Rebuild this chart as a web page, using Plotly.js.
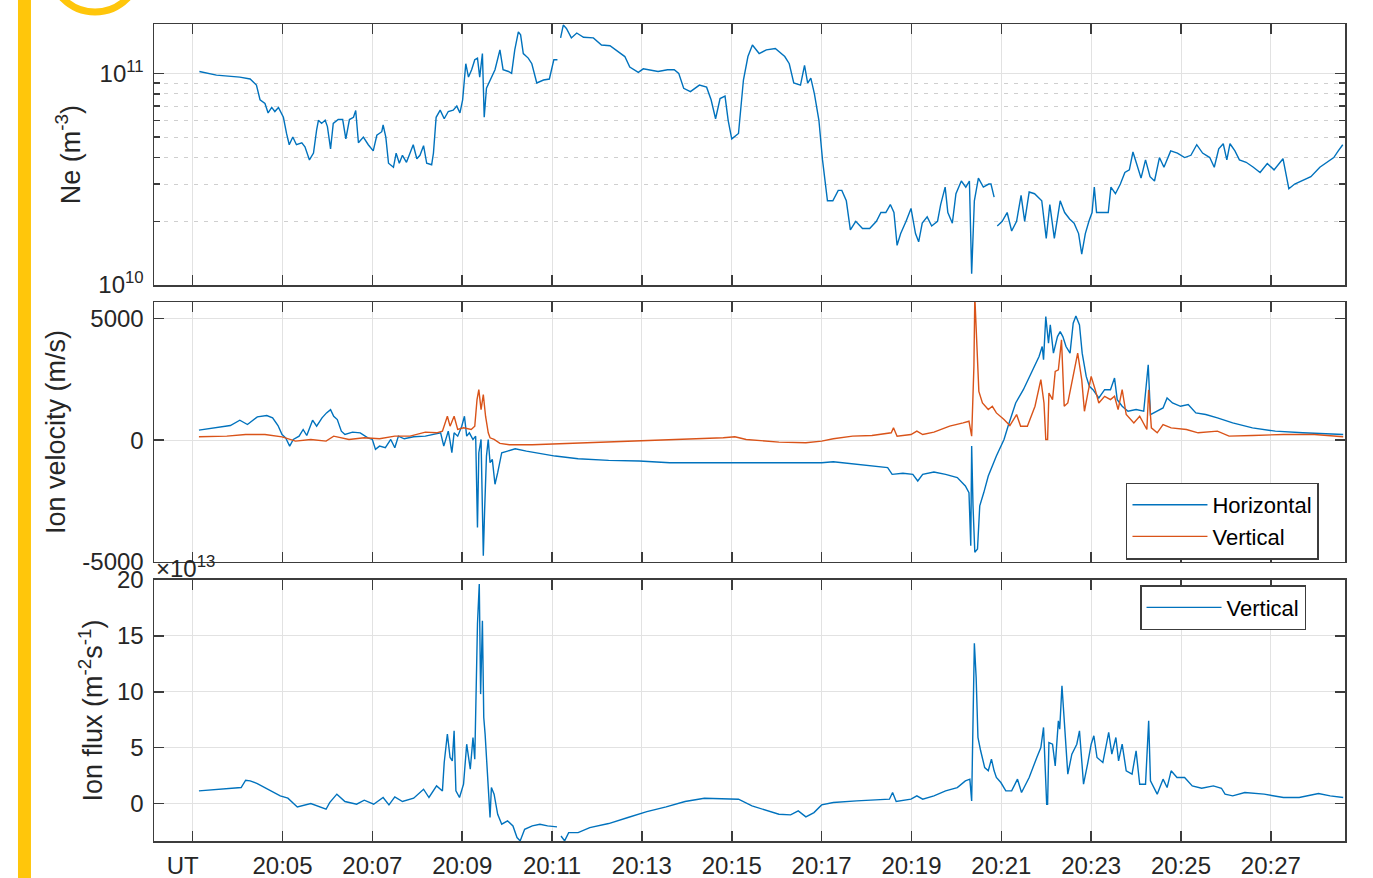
<!DOCTYPE html>
<html>
<head>
<meta charset="utf-8">
<script src="https://cdn.plot.ly/plotly-3.0.1.min.js"></script>
<style>html,body{margin:0;padding:0;background:#fff;}#chart{width:1373px;height:878px;}</style>
</head>
<body>
<div id="chart"></div>
<script>
// time in minutes after 20:00 UT
const tickMinutes = [3,5,7,9,11,13,15,17,19,21,23,25,27];
const tickLabels = ["UT\u00a0\u00a0\u00a0","20:05","20:07","20:09","20:11","20:13","20:15","20:17","20:19","20:21","20:23","20:25","20:27"];
const velTicks = [-5000,0,5000];
const velTickLabels = ["-5000","0","5000"];
const fluxTicks = [0,5,10,15,20];

// Ne in units of 1e10 m^-3  [minute, value]
const neData = [[3.15,10.2],[3.53,9.8],[4.05,9.6],[4.28,9.4],[4.42,8.8],[4.50,7.5],[4.61,7.2],[4.68,6.5],[4.76,6.9],[4.83,6.6],[4.91,6.9],[5.02,6.2],[5.09,5.2],[5.15,4.6],[5.23,5.0],[5.31,4.6],[5.43,4.7],[5.50,4.5],[5.60,3.9],[5.69,4.2],[5.76,5.4],[5.80,6.0],[5.87,5.8],[5.95,6.0],[6.00,5.6],[6.07,4.4],[6.13,5.8],[6.24,6.05],[6.34,6.05],[6.41,4.9],[6.49,6.05],[6.58,6.2],[6.63,6.67],[6.69,4.7],[6.80,5.0],[6.91,4.6],[7.02,4.3],[7.10,5.1],[7.21,5.3],[7.24,5.7],[7.30,5.0],[7.36,3.76],[7.47,3.6],[7.53,4.2],[7.60,3.76],[7.67,4.1],[7.76,3.8],[7.84,4.2],[7.91,4.6],[7.99,3.95],[8.06,4.1],[8.14,4.55],[8.21,3.76],[8.32,3.7],[8.36,4.2],[8.42,6.2],[8.51,6.7],[8.60,6.1],[8.69,6.6],[8.80,6.7],[8.88,7.0],[8.95,6.5],[9.01,7.5],[9.08,11.1],[9.14,9.6],[9.21,10.4],[9.28,11.6],[9.34,11.8],[9.39,9.6],[9.45,12.4],[9.49,6.2],[9.54,8.5],[9.62,9.3],[9.73,10.4],[9.84,12.9],[9.91,10.4],[10.03,10.2],[10.10,10.0],[10.17,12.9],[10.25,15.7],[10.30,15.2],[10.36,12.4],[10.47,11.8],[10.55,11.1],[10.66,9.0],[10.81,9.3],[10.94,9.4],[11.04,11.6],[11.12,11.6],[11.15,null],[11.19,14.7],[11.25,16.9],[11.32,16.3],[11.43,14.7],[11.55,15.5],[11.70,14.8],[11.92,14.7],[12.10,13.6],[12.29,13.5],[12.47,12.6],[12.62,12.0],[12.73,10.7],[12.92,10.1],[13.03,10.5],[13.18,10.4],[13.36,10.2],[13.57,10.4],[13.72,10.4],[13.82,10.0],[13.93,8.5],[14.08,8.2],[14.28,8.8],[14.44,8.6],[14.54,7.5],[14.64,6.1],[14.74,7.6],[14.85,7.8],[14.92,6.0],[15.00,4.9],[15.15,5.2],[15.26,9.3],[15.36,12.0],[15.46,13.6],[15.61,12.4],[15.77,12.9],[15.97,13.1],[16.18,12.0],[16.28,11.1],[16.38,9.0],[16.53,8.8],[16.62,10.9],[16.69,9.0],[16.76,9.5],[16.84,8.0],[16.94,6.0],[17.02,3.9],[17.13,2.5],[17.25,2.5],[17.37,2.8],[17.45,2.8],[17.55,2.5],[17.64,1.82],[17.76,2.0],[17.91,1.85],[18.07,1.85],[18.22,2.0],[18.32,2.2],[18.43,2.2],[18.53,2.4],[18.61,2.2],[18.68,1.54],[18.76,1.75],[18.88,2.0],[18.99,2.3],[19.09,1.75],[19.16,1.6],[19.24,1.96],[19.35,2.1],[19.45,1.9],[19.58,2.0],[19.65,2.4],[19.75,2.9],[19.81,2.2],[19.91,1.96],[19.99,2.7],[20.11,3.1],[20.21,2.9],[20.29,3.1],[20.34,1.13],[20.40,2.5],[20.49,3.2],[20.60,2.9],[20.72,3.0],[20.77,3.0],[20.84,2.6],[20.87,null],[20.91,1.9],[21.02,2.0],[21.13,2.2],[21.23,1.8],[21.34,2.0],[21.44,2.65],[21.52,2.0],[21.62,2.75],[21.74,2.7],[21.90,2.5],[22.00,1.66],[22.08,2.4],[22.18,1.66],[22.31,2.5],[22.41,2.2],[22.52,2.05],[22.62,1.96],[22.72,1.75],[22.79,1.4],[22.87,1.75],[22.95,2.0],[23.02,2.2],[23.07,2.9],[23.12,2.2],[23.23,2.2],[23.38,2.2],[23.44,2.9],[23.54,2.7],[23.65,3.0],[23.75,3.4],[23.85,3.5],[23.93,4.25],[24.01,3.75],[24.11,3.2],[24.21,3.9],[24.31,3.25],[24.41,3.1],[24.52,4.0],[24.62,3.6],[24.77,4.3],[24.92,4.2],[25.08,4.0],[25.22,4.1],[25.35,4.6],[25.48,4.2],[25.64,4.0],[25.74,3.6],[25.84,4.4],[25.94,4.65],[26.02,3.9],[26.09,4.65],[26.20,4.3],[26.30,3.9],[26.45,3.8],[26.61,3.6],[26.76,3.4],[26.92,3.75],[27.07,3.5],[27.27,3.95],[27.40,2.85],[27.53,3.0],[27.68,3.1],[27.89,3.25],[28.09,3.6],[28.25,3.8],[28.40,4.0],[28.50,4.3],[28.60,4.6]];

// Ion velocity, horizontal (m/s)
const velHorizontal = [[3.14,409],[3.50,504],[3.84,600],[4.05,817],[4.22,640],[4.44,953],[4.65,1008],[4.78,912],[4.90,600],[4.99,231],[5.07,95],[5.16,-245],[5.24,27],[5.37,163],[5.46,436],[5.54,190],[5.67,817],[5.76,572],[5.88,912],[5.98,1117],[6.07,1253],[6.14,980],[6.22,844],[6.31,368],[6.39,231],[6.56,327],[6.73,300],[6.90,95],[7.00,27],[7.07,-381],[7.16,-245],[7.29,-313],[7.41,27],[7.50,-313],[7.58,163],[7.71,54],[7.92,136],[8.18,163],[8.35,231],[8.52,300],[8.59,-245],[8.65,163],[8.69,368],[8.73,-40],[8.77,-517],[8.82,300],[8.90,163],[8.99,572],[9.05,980],[9.10,163],[9.16,300],[9.24,27],[9.30,163],[9.34,-3582],[9.37,-517],[9.42,27],[9.47,-4740],[9.50,-2833],[9.54,-654],[9.58,27],[9.62,-926],[9.67,-790],[9.73,-1811],[9.79,-1335],[9.88,-517],[10.01,-449],[10.18,-354],[10.43,-449],[10.73,-545],[11.07,-654],[11.58,-763],[12.26,-831],[12.94,-858],[13.62,-926],[14.39,-926],[15.19,-926],[16.05,-926],[17.00,-926],[17.26,-885],[17.78,-994],[18.21,-1062],[18.47,-1130],[18.57,-1403],[18.81,-1362],[19.03,-1403],[19.14,-1675],[19.25,-1403],[19.50,-1307],[19.76,-1403],[20.02,-1539],[20.20,-1880],[20.28,-2152],[20.32,-4331],[20.34,-245],[20.37,-2697],[20.41,-4604],[20.47,-4468],[20.52,-2697],[20.61,-2152],[20.71,-1471],[20.89,-654],[21.06,27],[21.15,572],[21.32,1525],[21.49,2070],[21.71,2887],[21.84,3432],[21.91,3841],[21.94,3296],[21.99,5066],[22.05,3977],[22.09,4726],[22.16,3568],[22.25,4249],[22.31,4454],[22.37,4249],[22.44,3841],[22.53,3568],[22.60,4794],[22.66,5094],[22.74,4726],[22.80,3568],[22.89,2615],[22.96,2206],[23.04,2070],[23.17,1730],[23.30,2070],[23.43,2070],[23.52,2547],[23.58,1662],[23.69,1389],[23.82,1185],[24.00,1253],[24.17,1185],[24.27,3092],[24.32,1049],[24.47,1185],[24.60,1321],[24.69,1730],[24.81,1525],[24.99,1389],[25.16,1457],[25.33,1117],[25.55,1049],[25.81,912],[26.15,708],[26.59,504],[27.10,368],[27.71,300],[28.61,231]];

// Ion velocity, vertical (m/s)
const velVertical = [[3.14,136],[3.76,163],[4.18,231],[4.61,231],[4.99,136],[5.29,-40],[5.63,27],[5.97,-40],[6.14,163],[6.48,27],[6.82,95],[7.16,54],[7.50,163],[7.84,163],[8.18,327],[8.43,300],[8.56,368],[8.67,980],[8.73,572],[8.82,980],[8.90,436],[9.03,504],[9.20,436],[9.28,572],[9.33,1662],[9.37,2070],[9.42,1253],[9.47,1866],[9.52,980],[9.58,300],[9.62,95],[9.71,27],[9.84,-136],[10.05,-191],[10.56,-191],[11.41,-136],[12.26,-82],[13.11,-27],[13.96,27],[14.81,95],[15.07,136],[15.32,27],[16.05,-82],[16.65,-109],[17.00,-40],[17.26,54],[17.69,163],[18.12,191],[18.55,300],[18.60,504],[18.68,163],[18.99,231],[19.12,368],[19.25,231],[19.50,327],[19.85,572],[20.15,708],[20.28,776],[20.34,163],[20.39,3023],[20.41,5900],[20.45,4386],[20.50,2002],[20.58,1525],[20.71,1253],[20.80,1389],[20.89,1117],[21.06,844],[21.19,600],[21.34,1049],[21.43,572],[21.58,572],[21.75,1389],[21.88,2479],[21.95,1525],[21.99,27],[22.03,27],[22.06,1934],[22.14,1662],[22.20,2819],[22.27,2887],[22.34,4113],[22.40,1389],[22.48,1525],[22.57,2343],[22.70,3568],[22.79,2479],[22.85,1185],[22.92,1866],[23.00,2615],[23.09,2070],[23.17,1525],[23.30,1798],[23.43,1662],[23.52,1798],[23.60,1253],[23.69,2070],[23.78,1049],[23.95,708],[24.08,980],[24.24,436],[24.28,2070],[24.34,504],[24.47,300],[24.60,640],[24.78,504],[25.12,436],[25.38,300],[25.81,368],[26.07,163],[26.59,191],[27.28,231],[27.97,231],[28.61,136]];

// Ion flux, vertical, in units of 1e13 m^-2 s^-1
const fluxVertical = [[3.14,1.13],[3.54,1.28],[4.08,1.43],[4.18,2.09],[4.28,2.03],[4.44,1.79],[4.61,1.43],[4.73,1.19],[4.95,0.69],[5.12,0.48],[5.33,-0.30],[5.63,0],[5.84,-0.30],[5.97,-0.51],[6.05,0.09],[6.21,0.84],[6.39,0.18],[6.65,-0.06],[6.82,0.30],[7.03,-0.06],[7.24,0.54],[7.37,-0.12],[7.50,0.60],[7.67,0.18],[7.92,0.48],[8.14,1.28],[8.26,0.54],[8.43,1.58],[8.56,1.13],[8.60,3.67],[8.67,6.21],[8.73,4.12],[8.78,3.82],[8.82,6.51],[8.86,1.13],[8.94,0.54],[9.03,1.73],[9.10,5.31],[9.18,3.07],[9.24,5.91],[9.28,3.97],[9.34,16.06],[9.38,19.64],[9.41,9.79],[9.45,16.36],[9.48,7.70],[9.51,6.21],[9.56,2.93],[9.59,0.54],[9.62,-1.25],[9.65,1.43],[9.71,0.84],[9.79,-0.96],[9.88,-1.85],[10.01,-1.55],[10.13,-2.00],[10.22,-3.04],[10.29,-3.34],[10.39,-2.30],[10.56,-2.00],[10.73,-1.85],[10.90,-2.00],[11.11,-2.09],[11.15,null],[11.20,-2.90],[11.28,-3.34],[11.37,-2.60],[11.58,-2.60],[11.84,-2.15],[12.26,-1.79],[12.69,-1.25],[13.11,-0.72],[13.54,-0.30],[13.96,0.18],[14.39,0.48],[14.81,0.45],[15.15,0.39],[15.45,-0.21],[15.79,-0.66],[16.05,-0.96],[16.31,-1.01],[16.48,-0.66],[16.65,-1.19],[16.83,-0.81],[17.00,-0.12],[17.26,0.09],[17.78,0.24],[18.21,0.30],[18.51,0.39],[18.58,0.99],[18.66,0.18],[18.99,0.39],[19.12,0.69],[19.25,0.39],[19.50,0.69],[19.76,1.13],[20.02,1.43],[20.20,2.03],[20.30,2.18],[20.34,0.24],[20.37,8.30],[20.40,14.33],[20.44,11.28],[20.48,5.91],[20.54,4.72],[20.63,3.22],[20.71,2.93],[20.78,3.97],[20.84,2.93],[20.89,2.33],[20.99,1.88],[21.10,1.13],[21.23,1.13],[21.36,2.18],[21.45,0.99],[21.62,2.33],[21.79,4.12],[21.88,5.01],[21.94,6.81],[21.98,2.63],[22.01,-0.06],[22.03,-0.06],[22.06,5.46],[22.14,5.31],[22.20,3.37],[22.27,7.40],[22.30,6.66],[22.35,10.54],[22.42,5.91],[22.48,2.63],[22.57,4.42],[22.68,5.31],[22.74,6.51],[22.83,1.73],[22.92,3.52],[23.00,5.31],[23.06,6.06],[23.13,4.12],[23.26,3.67],[23.39,6.36],[23.46,4.42],[23.55,5.91],[23.61,3.82],[23.69,5.31],[23.78,2.93],[23.91,2.63],[24.00,4.72],[24.08,1.73],[24.21,1.73],[24.28,7.40],[24.32,2.03],[24.47,0.84],[24.60,2.18],[24.69,1.43],[24.78,2.93],[24.91,2.33],[25.08,2.33],[25.25,1.58],[25.46,1.37],[25.72,1.58],[25.90,1.37],[25.98,0.84],[26.15,0.69],[26.42,0.99],[26.85,0.84],[27.28,0.54],[27.63,0.54],[28.06,0.90],[28.32,0.69],[28.61,0.54]];

const neMinorTicks = [2,3,4,5,6,7,8,9];

const BLUE = '#0072BD', ORANGE = '#D95319';
const FONT = 'Liberation Sans, Arial, Helvetica, sans-serif';
const AX = '#3c3c3c', GRID = '#e2e2e2', TXT = '#262626';
const TICK = 24, TITLE = 27, LW = 1.4;

const xs = d => d.map(p => p[0]);
const ys = (d, k) => d.map(p => p[1] === null ? null : p[1] * k);

const traces = [
  {x: xs(neData), y: ys(neData, 1e10), xaxis:'x', yaxis:'y', mode:'lines', line:{color:BLUE, width:LW}, showlegend:false, connectgaps:false, name:'Ne'},
  {x: xs(velHorizontal), y: ys(velHorizontal, 1), xaxis:'x2', yaxis:'y2', mode:'lines', line:{color:BLUE, width:LW}, name:'Horizontal', legend:'legend'},
  {x: xs(velVertical), y: ys(velVertical, 1), xaxis:'x2', yaxis:'y2', mode:'lines', line:{color:ORANGE, width:LW}, name:'Vertical', legend:'legend'},
  {x: xs(fluxVertical), y: ys(fluxVertical, 1), xaxis:'x3', yaxis:'y3', mode:'lines', line:{color:BLUE, width:LW}, name:'Vertical', legend:'legend2', connectgaps:false}
];

const xCommon = {
  range:[2.14, 28.65], tickmode:'array', tickvals:tickMinutes, ticktext:tickLabels,
  ticks:'inside', ticklen:10, tickwidth:1.5, tickcolor:AX,
  showline:true, linecolor:AX, linewidth:1.5, mirror:'ticks',
  showgrid:true, gridcolor:GRID, gridwidth:1, zeroline:false,
  tickfont:{size:TICK, color:TXT, family:FONT}
};
const yCommon = {
  ticks:'inside', ticklen:10, tickwidth:1.5, tickcolor:AX,
  showline:true, linecolor:AX, linewidth:1.5, mirror:'ticks',
  showgrid:true, gridcolor:GRID, gridwidth:1, zeroline:false,
  tickfont:{size:TICK, color:TXT, family:FONT}, ticklabelstandoff:4
};

const layout = {
  width:1373, height:878,
  margin:{l:154, r:28, t:24, b:37},
  paper_bgcolor:'#ffffff', plot_bgcolor:'#ffffff',
  font:{family:FONT, size:TICK, color:TXT},
  showlegend:true,
  xaxis: Object.assign({}, xCommon, {domain:[0,1], anchor:'y', showticklabels:false}),
  xaxis2: Object.assign({}, xCommon, {domain:[0,1], anchor:'y2', showticklabels:false}),
  xaxis3: Object.assign({}, xCommon, {domain:[0,1], anchor:'y3', showticklabels:true, ticklabelstandoff:3}),
  yaxis: Object.assign({}, yCommon, {
    domain:[0.6805,1], anchor:'x', type:'log', range:[10, 11.233],
    tickmode:'array', tickvals:[1e10, 1e11], ticktext:['10<sup>10</sup>','10<sup>11</sup>'],
    minor:{tickmode:'array', tickvals:neMinorTicks.map(v => v*1e10), ticks:'inside', ticklen:6, tickcolor:AX,
           showgrid:true, gridcolor:'#cfcfcf', griddash:'4px,6px', gridwidth:1},
    title:{text:'Ne (m<sup>-3</sup>)', font:{size:TITLE, color:TXT, family:FONT}, standoff:10}
  }),
  yaxis2: Object.assign({}, yCommon, {
    domain:[0.3415,0.6597], anchor:'x2', range:[-5000, 5666],
    tickmode:'array', tickvals:velTicks, ticktext:velTickLabels,
    title:{text:'Ion velocity (m/s)', font:{size:TITLE, color:TXT, family:FONT}, standoff:9}
  }),
  yaxis3: Object.assign({}, yCommon, {
    domain:[0,0.3195], anchor:'x3', range:[-3.35, 20],
    tickmode:'array', tickvals:fluxTicks,
    title:{text:'Ion flux (m<sup>-2</sup>s<sup>-1</sup>)', font:{size:TITLE, color:TXT, family:FONT}, standoff:6}
  }),
  legend:{x:0.8161, y:0.4388, xanchor:'left', yanchor:'top', bgcolor:'#ffffff', bordercolor:AX, borderwidth:1.5,
          font:{size:22, color:'#000', family:FONT}, itemwidth:75, tracegroupgap:0},
  legend2:{x:0.8279, y:0.3133, xanchor:'left', yanchor:'top', bgcolor:'#ffffff', bordercolor:AX, borderwidth:1.5,
          font:{size:22, color:'#000', family:FONT}, itemwidth:75},
  annotations:[
    {xref:'paper', yref:'paper', x:0.0, y:0.3354, xanchor:'left', yanchor:'middle', showarrow:false,
     text:'×10<sup>13</sup>', font:{size:TICK, color:TXT, family:FONT}}
  ],
  shapes:[
    {type:'rect', xref:'paper', yref:'paper', x0:-0.1142, x1:-0.1033, y0:-0.0453, y1:1.0294, fillcolor:'#FFC60B', line:{width:0}},
    {type:'circle', xref:'paper', yref:'paper', x0:-0.0873, x1:-0.01175, y0:1.0147, y1:1.1248, line:{color:'#FFC60B', width:7}}
  ]
};

Plotly.newPlot('chart', traces, layout, {displayModeBar:false, staticPlot:true});
</script>
</body>
</html>
